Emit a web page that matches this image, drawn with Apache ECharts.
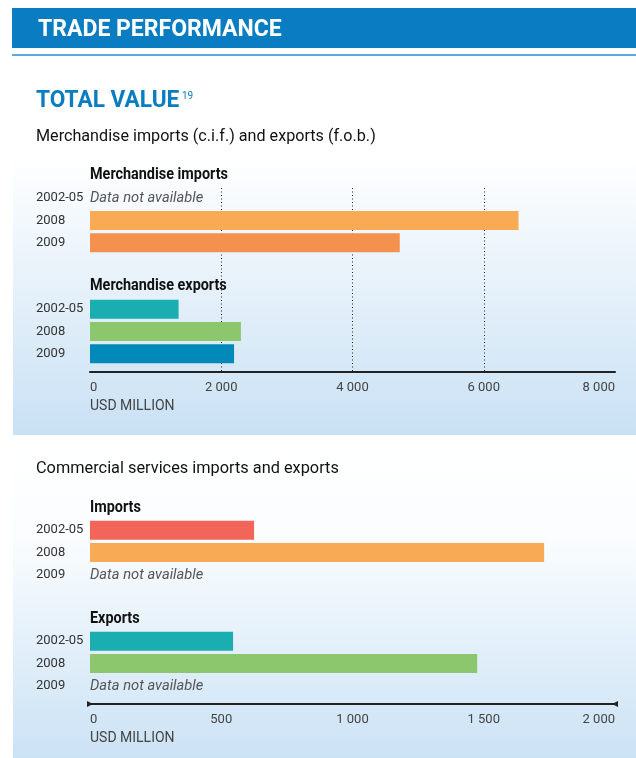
<!DOCTYPE html>
<html>
<head>
<meta charset="utf-8">
<script src="https://cdn.jsdelivr.net/npm/echarts@6/dist/echarts.min.js"></script>
<style>
  html, body { margin: 0; padding: 0; background: #fff; }
  #container { width: 636px; height: 758px; }
</style>
</head>
<body>
<div id="container"></div>
<script>
var dom = document.getElementById("container");
var myChart = echarts.init(dom);

// data
var periods = ['2002-05', '2008', '2009'];
var merchImports = [null, 6530, 4720];
var merchExports = [1350, 2300, 2195];
var servImports = [625, 1730, null];
var servExports = [545, 1475, null];

// colours for the rows
var importColors = ['#f2665a', '#f8aa55', '#f5914e'];
var exportColors = ['#1aaeb0', '#8cc76e', '#0089b9'];

var FONT = 'Roboto, "Noto Sans", sans-serif';

function fmt(v) {
  return String(v).replace(/\B(?=(\d{3})+(?!\d))/g, ' ');
}

function barData(values, colors) {
  return values.map(function (v, i) {
    return { value: v, itemStyle: { color: colors[i] } };
  });
}

// grids: 0 axis chart1, 1 merch imp, 2 merch exp, 3 axis chart2, 4 serv imp, 5 serv exp
var grids = [
  { left: 90, right: 21, top: 188, height: 184 },
  { left: 90, right: 21, top: 187, height: 67 },
  { left: 90, right: 21, top: 298, height: 67 },
  { left: 90, right: 21, top: 520, height: 184 },
  { left: 90, right: 21, top: 519, height: 67 },
  { left: 90, right: 21, top: 630, height: 67 }
];

function axisX(grid, max, interval, visible, caps, split) {
  return {
    type: 'value', gridIndex: grid, min: 0, max: max, interval: interval,
    show: visible,
    axisLine: {
      show: visible, onZero: false,
      lineStyle: { color: '#222', width: 2 },
      symbol: caps ? ['path://M0,0L10,0L5,10Z', 'path://M0,0L10,0L5,10Z'] : 'none',
      symbolSize: [7, 6]
    },
    axisTick: { show: false },
    axisLabel: {
      show: visible, margin: 9, formatter: fmt,
      alignMinLabel: 'left', alignMaxLabel: 'right',
      color: '#444', fontFamily: FONT, fontSize: 13
    },
    splitLine: {
      show: split, showMinLine: false, showMaxLine: false,
      lineStyle: { color: '#222', type: [1, 2.5], width: 1 }
    }
  };
}

function axisYCat(grid) {
  return {
    type: 'category', gridIndex: grid, data: periods, inverse: true,
    axisLine: { show: false }, axisTick: { show: false },
    axisLabel: {
      align: 'left', margin: 54,
      color: '#333', fontFamily: FONT, fontSize: 13
    }
  };
}

function axisYBlank(grid) {
  return { type: 'value', gridIndex: grid, min: 0, max: 1, show: false };
}

function barSeries(axis, values, colors) {
  return {
    type: 'bar', xAxisIndex: axis, yAxisIndex: axis,
    barWidth: 19, data: barData(values, colors), silent: true
  };
}

function txt(x, y, s, font, fill, sx) {
  return {
    type: 'text', x: x, y: y, z: 5, scaleX: sx || 1,
    style: { text: s, fill: fill, font: font + ' ' + FONT, verticalAlign: 'middle' }
  };
}

var headings = [
  { text: 'Merchandise imports', y: 175 },
  { text: 'Merchandise exports', y: 286 },
  { text: 'Imports', y: 508 },
  { text: 'Exports', y: 619 }
];

var graphics = [
  { type: 'rect', shape: { x: 12, y: 8, width: 624, height: 40 }, style: { fill: '#0a7cc1' } },
  { type: 'rect', shape: { x: 12, y: 54, width: 624, height: 2 }, style: { fill: '#5ba8dd' } },
  txt(38, 30, 'TRADE PERFORMANCE', 'bold 23px', '#fff', 1),
  {
    type: 'rect', z: -10, shape: { x: 13, y: 158, width: 623, height: 277 },
    style: { fill: new echarts.graphic.LinearGradient(0, 0, 0, 1, [{ offset: 0, color: '#ffffff' }, { offset: 1, color: '#c9e1f4' }]) }
  },
  {
    type: 'rect', z: -10, shape: { x: 13, y: 440, width: 623, height: 318 },
    style: { fill: new echarts.graphic.LinearGradient(0, 0, 0, 1, [{ offset: 0, color: '#ffffff' }, { offset: 0.3, color: '#fbfdfe' }, { offset: 1, color: '#cbe2f5' }]) }
  },
  txt(36, 101, 'TOTAL VALUE', 'bold 23px', '#0a7cc1', 0.985),
  txt(182, 96, '19', '10px', '#0a7cc1'),
  txt(36, 137, 'Merchandise imports (c.i.f.) and exports (f.o.b.)', '17px', '#111', 0.95),
  txt(36, 469, 'Commercial services imports and exports', '17px', '#111', 0.96),
  txt(90, 406, 'USD MILLION', '14px', '#444', 1),
  txt(90, 738, 'USD MILLION', '14px', '#444', 1)
];
headings.forEach(function (h) {
  graphics.push(txt(90, h.y, h.text, 'bold 16px', '#111', 0.9));
});

option = {
  animation: false,
  grid: grids,
  xAxis: [
    axisX(0, 8000, 2000, true, false, true),
    axisX(1, 8000, 2000, false, false, false),
    axisX(2, 8000, 2000, false, false, false),
    axisX(3, 2000, 500, true, true, false),
    axisX(4, 2000, 500, false, false, false),
    axisX(5, 2000, 500, false, false, false)
  ],
  yAxis: [
    axisYBlank(0), axisYCat(1), axisYCat(2),
    axisYBlank(3), axisYCat(4), axisYCat(5)
  ],
  series: [
    barSeries(1, merchImports, importColors),
    barSeries(2, merchExports, exportColors),
    barSeries(4, servImports, importColors),
    barSeries(5, servExports, exportColors)
  ],
  graphic: graphics
};
myChart.setOption(option, true);

// "Data not available" notes for missing values
var groups = [[1, merchImports], [2, merchExports], [4, servImports], [5, servExports]];
var notes = [];
groups.forEach(function (g) {
  g[1].forEach(function (v, i) {
    if (v === null) {
      var y = myChart.convertToPixel({ yAxisIndex: g[0] }, periods[i]);
      notes.push(txt(90, y, 'Data not available', 'italic 15px', '#555', 0.98));
    }
  });
});
myChart.setOption({ graphic: graphics.concat(notes) });
</script>
</body>
</html>
